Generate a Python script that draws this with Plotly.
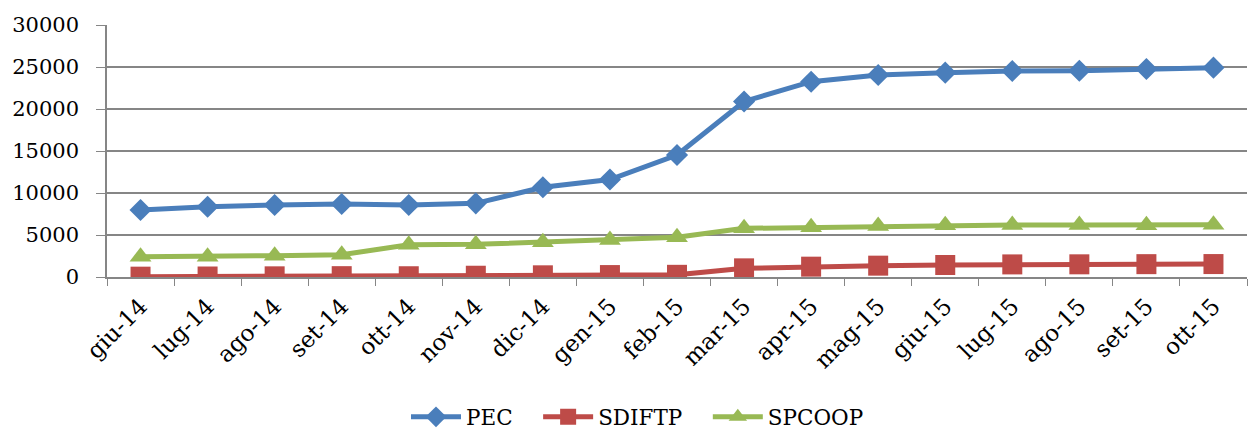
import plotly.graph_objects as go

categories = ["giu-14", "lug-14", "ago-14", "set-14", "ott-14", "nov-14", "dic-14", "gen-15",
              "feb-15", "mar-15", "apr-15", "mag-15", "giu-15", "lug-15", "ago-15", "set-15", "ott-15"]
pec = [7980, 8370, 8570, 8690, 8570, 8770, 10680, 11600, 14520, 20900, 23250, 24050, 24330, 24520, 24560, 24760, 24920]
sdiftp = [40, 60, 80, 100, 90, 150, 200, 230, 260, 1030, 1230, 1350, 1430, 1500, 1510, 1530, 1540]
spcoop = [2420, 2420, 2540, 2650, 3850, 3890, 4130, 4400, 4720, 5790, 5910, 6070, 6150, 6190, 6190, 6170, 6230]
yticks = [0, 5000, 10000, 15000, 20000, 25000, 30000]

FONT = "DejaVu Serif"
NB = "\u00a0"
series = [
    ("PEC", pec, "#4A7EBB", "diamond", 17),
    ("SDIFTP", sdiftp, "#BE4B48", "square", 20),
    ("SPCOOP", spcoop, "#98B954", "triangle-up", 19),
]

fig = go.Figure()
for i, (name, vals, color, sym, size) in enumerate(series):
    fig.add_trace(go.Scatter(
        x=categories, y=vals, mode="lines+markers",
        name=name + (NB * 3 if i < len(series) - 1 else ""),
        line=dict(color=color, width=5),
        marker=dict(symbol=sym, size=size, color=color, line=dict(width=0)),
    ))

fig.update_layout(
    width=1250, height=432,
    margin=dict(l=107, r=3, t=25, b=155),
    paper_bgcolor="white", plot_bgcolor="white",
    font=dict(family=FONT, color="black", size=21),
    showlegend=True,
    legend=dict(orientation="h", xref="container", yref="container",
                x=0.51, y=0.035, xanchor="center", yanchor="middle",
                font=dict(family=FONT, size=21.5), itemwidth=50,
                tracegroupgap=0),
)
fig.update_xaxes(
    type="category", tickangle=-45, tickson="boundaries",
    range=[-0.5, len(categories) - 0.5],
    ticks="outside", ticklen=7, tickcolor="#868686",
    showline=True, linecolor="#868686", linewidth=1.5,
    showgrid=False, tickfont=dict(family=FONT, size=23),
    automargin=False, ticklabelstandoff=5,
)
fig.update_yaxes(
    range=[0, 30000], tickvals=yticks, ticktext=[str(v) for v in yticks],
    ticks="outside", ticklen=9, tickcolor="#868686",
    showline=True, linecolor="#868686", linewidth=1.5,
    showgrid=True, gridcolor="#868686", gridwidth=1.5,
    zeroline=False, tickfont=dict(family=FONT, size=21),
    automargin=False, ticklabelstandoff=13,
)

fig.write_html("out.html", config={"displayModeBar": False},
               post_script="document.body.style.margin='0px';document.body.style.overflow='hidden';")
